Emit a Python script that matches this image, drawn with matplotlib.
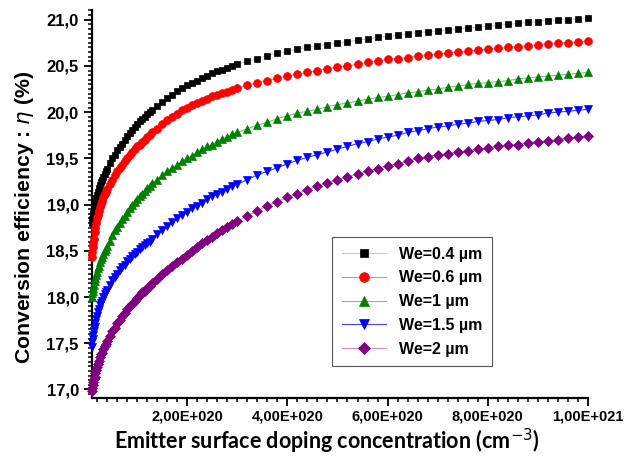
import matplotlib
matplotlib.use("Agg")
import matplotlib.pyplot as plt
from matplotlib.ticker import MultipleLocator, FixedLocator, FuncFormatter

# Emitter surface doping (units of 1e19 cm^-3)
doping_1e19 = [1, 1.1, 1.2, 1.3, 1.4, 1.55, 1.7, 1.85, 2, 2.2, 2.4, 2.6, 2.8, 3.0, 3.25, 3.5, 3.75,
               4, 4.5, 5, 5.5, 6, 6.5, 7, 7.5, 8, 8.5, 9, 9.5, 10, 10.5, 11, 11.5, 12, 12.5,
               13, 14, 15, 16, 17, 18, 19, 20, 21, 22, 23, 24, 25, 26, 27, 28, 29,
               30, 32, 34, 36, 38, 40, 42, 44, 46, 48,
               50, 52, 54, 56, 58, 60, 62, 64, 66, 68,
               70, 72, 74, 76, 78, 80, 82, 84, 86, 88,
               90, 92, 94, 96, 98, 100]

eff_we04 = [18.80, 18.84, 18.88, 18.91, 18.95, 18.99, 19.03, 19.07, 19.10, 19.14, 19.18, 19.21,
            19.24, 19.27, 19.30, 19.33, 19.36,
            19.39, 19.45, 19.50, 19.54, 19.59, 19.62, 19.66, 19.70, 19.74, 19.77, 19.81, 19.84,
            19.87, 19.90, 19.93, 19.95, 19.98, 20.00,
            20.02, 20.07, 20.11, 20.15, 20.19, 20.23, 20.26, 20.29, 20.32, 20.34, 20.37, 20.39,
            20.42, 20.44, 20.46, 20.48, 20.50,
            20.52, 20.55, 20.58, 20.61, 20.64, 20.66, 20.68, 20.70, 20.72, 20.73,
            20.75, 20.76, 20.78, 20.79, 20.81, 20.82, 20.83, 20.85, 20.86, 20.87,
            20.88, 20.89, 20.90, 20.91, 20.92, 20.93, 20.94, 20.95, 20.96, 20.97,
            20.98, 20.99, 21.00, 21.00, 21.01, 21.02]

eff_we06 = [18.43, 18.49, 18.54, 18.59, 18.63, 18.70, 18.75, 18.80, 18.85, 18.89, 18.93, 18.97,
            19.01, 19.04, 19.08, 19.11, 19.14,
            19.17, 19.22, 19.27, 19.32, 19.36, 19.40, 19.43, 19.47, 19.50, 19.54, 19.57, 19.60,
            19.63, 19.65, 19.68, 19.70, 19.73, 19.75,
            19.78, 19.82, 19.87, 19.91, 19.95, 19.98, 20.02, 20.05, 20.08, 20.10, 20.12, 20.14,
            20.17, 20.19, 20.21, 20.22, 20.24,
            20.26, 20.29, 20.32, 20.34, 20.37, 20.39, 20.41, 20.43, 20.45, 20.47,
            20.49, 20.50, 20.52, 20.54, 20.55, 20.57, 20.58, 20.59, 20.61, 20.62,
            20.63, 20.64, 20.65, 20.66, 20.67, 20.68, 20.69, 20.70, 20.71, 20.72,
            20.73, 20.74, 20.75, 20.75, 20.76, 20.77]

eff_we1 = [18.00, 18.04, 18.07, 18.10, 18.13, 18.17, 18.21, 18.24, 18.27, 18.31, 18.34, 18.38,
           18.41, 18.43, 18.47, 18.50, 18.52,
           18.55, 18.61, 18.67, 18.72, 18.76, 18.80, 18.84, 18.88, 18.92, 18.96, 19.00, 19.03,
           19.06, 19.09, 19.12, 19.15, 19.18, 19.20,
           19.23, 19.27, 19.32, 19.36, 19.40, 19.43, 19.47, 19.50, 19.53, 19.57, 19.60, 19.63,
           19.65, 19.68, 19.71, 19.73, 19.76,
           19.78, 19.82, 19.86, 19.89, 19.93, 19.96, 19.99, 20.01, 20.03, 20.06,
           20.08, 20.10, 20.12, 20.14, 20.16, 20.17, 20.19, 20.21, 20.22, 20.24,
           20.25, 20.27, 20.28, 20.30, 20.31, 20.32, 20.33, 20.34, 20.36, 20.37,
           20.38, 20.39, 20.40, 20.41, 20.42, 20.43]

eff_we15 = [17.46, 17.51, 17.55, 17.59, 17.63, 17.68, 17.72, 17.76, 17.80, 17.84, 17.87, 17.91,
            17.94, 17.96, 18.00, 18.03, 18.05,
            18.08, 18.13, 18.18, 18.22, 18.25, 18.29, 18.32, 18.35, 18.39, 18.41, 18.44, 18.47,
            18.49, 18.52, 18.54, 18.56, 18.58, 18.60,
            18.63, 18.68, 18.72, 18.77, 18.81, 18.85, 18.89, 18.92, 18.96, 18.99, 19.02, 19.06,
            19.09, 19.11, 19.14, 19.17, 19.20,
            19.22, 19.27, 19.32, 19.36, 19.40, 19.44, 19.48, 19.51, 19.54, 19.57,
            19.60, 19.63, 19.66, 19.68, 19.71, 19.73, 19.75, 19.78, 19.80, 19.82,
            19.84, 19.85, 19.87, 19.88, 19.90, 19.91, 19.92, 19.94, 19.95, 19.96,
            19.97, 19.99, 20.00, 20.01, 20.02, 20.03]

eff_we2 = [16.98, 17.02, 17.05, 17.08, 17.11, 17.14, 17.18, 17.21, 17.24, 17.28, 17.31, 17.35,
           17.38, 17.40, 17.44, 17.47, 17.49,
           17.52, 17.58, 17.63, 17.67, 17.72, 17.75, 17.79, 17.83, 17.87, 17.90, 17.93, 17.96,
           17.99, 18.02, 18.05, 18.07, 18.10, 18.12,
           18.15, 18.20, 18.25, 18.29, 18.34, 18.38, 18.41, 18.45, 18.50, 18.54, 18.58, 18.62,
           18.65, 18.69, 18.72, 18.76, 18.79,
           18.82, 18.88, 18.93, 18.99, 19.03, 19.08, 19.12, 19.16, 19.20, 19.23,
           19.27, 19.30, 19.33, 19.36, 19.39, 19.42, 19.44, 19.47, 19.50, 19.52,
           19.54, 19.55, 19.57, 19.58, 19.60, 19.61, 19.63, 19.64, 19.65, 19.67,
           19.68, 19.69, 19.70, 19.72, 19.73, 19.74]

labels = ["We=0.4 µm", "We=0.6 µm", "We=1 µm", "We=1.5 µm", "We=2 µm"]
series = [eff_we04, eff_we06, eff_we1, eff_we15, eff_we2]
x_ticks = [2e20, 4e20, 6e20, 8e20, 1e21]

colors = ["#000000", "#ff0000", "#008000", "#0000ff", "#800080"]
line_colors = ["#c8c8c8", "#ff8080", "#80c080", "#4040ff", "#d090d0"]
markers = ["s", "o", "^", "v", "D"]
msizes = [4.6, 5.6, 6.2, 6.2, 4.8]

plt.rcParams["font.family"] = ["Liberation Sans", "DejaVu Sans"]
plt.rcParams["mathtext.fontset"] = "dejavusans"

fig = plt.figure(figsize=(6.33, 4.63), dpi=100)
ax = fig.add_axes([0.1453, 0.1404, 0.7836, 0.838])

x = [d * 1e19 for d in doping_1e19]
for y, lab, c, lc, m, ms in zip(series, labels, colors, line_colors, markers, msizes):
    ax.plot(x, y, color=lc, lw=0.8, marker=m, markersize=ms,
            markerfacecolor=c, markeredgecolor=c, markeredgewidth=0.5,
            label=lab, clip_on=False, zorder=3)

ax.set_xlim(1e19, 1e21)
ax.set_ylim(16.908, 21.105)

ax.spines["top"].set_visible(False)
ax.spines["right"].set_visible(False)
for s in ("left", "bottom"):
    ax.spines[s].set_linewidth(1.6)

ax.yaxis.set_major_locator(MultipleLocator(0.5))
ax.yaxis.set_minor_locator(MultipleLocator(0.05))
ax.xaxis.set_major_locator(FixedLocator(x_ticks))
ax.xaxis.set_minor_locator(MultipleLocator(2e19))


def yfmt(v, pos):
    return f"{v:.1f}".replace(".", ",")


def xfmt(v, pos):
    s = f"{v:.2E}"
    mant, exp = s.split("E")
    return f"{mant.replace('.', ',')}E{exp[0]}{int(exp[1:]):03d}"


ax.yaxis.set_major_formatter(FuncFormatter(yfmt))
ax.xaxis.set_major_formatter(FuncFormatter(xfmt))

ax.tick_params(which="major", direction="out", length=5.5, width=1.3, pad=3)
ax.tick_params(which="minor", direction="out", length=3, width=1.1)
ax.tick_params(axis="x", which="major", labelsize=10.5)
ax.tick_params(axis="y", which="major", labelsize=12, pad=4)
for lbl in ax.get_xticklabels() + ax.get_yticklabels():
    lbl.set_fontweight("bold")

ax.set_ylabel("Conversion efficiency : $\\eta$ (%)", fontsize=15.3,
              fontweight="bold")
ax.yaxis.set_label_coords(-0.112, 0.465)
ax.set_xlabel("Emitter surface doping concentration (cm$^{-3}$)",
              fontsize=15.5, fontweight="bold", family=["Lato", "DejaVu Sans"])
ax.xaxis.set_label_coords(0.474, -0.075)

leg = ax.legend(loc="upper left", bbox_to_anchor=(0.484, 0.415),
                borderaxespad=0, frameon=True, fancybox=False,
                edgecolor="#555555", framealpha=1, handlelength=2.8,
                labelspacing=0.55, markerscale=1.25, borderpad=0.6,
                prop={"family": "Liberation Sans", "weight": "bold", "size": 11.5})
leg.get_frame().set_linewidth(0.8)

fig.savefig("out.png", dpi=100)
